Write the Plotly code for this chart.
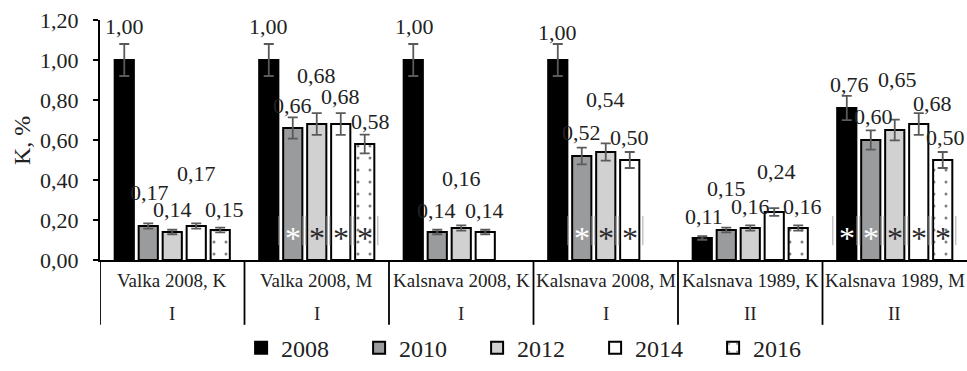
import plotly.graph_objects as go

# Potassium content (K, %) by stand and survey year
sites = ["Valka 2008, K", "Valka 2008, M", "Kalsnava 2008, K",
         "Kalsnava 2008, M", "Kalsnava 1989, K", "Kalsnava 1989, M"]
site_class = ["I", "I", "I", "I", "II", "II"]
years = ["2008", "2010", "2012", "2014", "2016"]

k_2008 = [1.00, 1.00, 1.00, 1.00, 0.11, 0.76]
k_2010 = [0.17, 0.66, 0.14, 0.52, 0.15, 0.60]
k_2012 = [0.14, 0.68, 0.16, 0.54, 0.16, 0.65]
k_2014 = [0.17, 0.68, 0.14, 0.50, 0.24, 0.68]
k_2016 = [0.15, 0.58, None, None, 0.16, 0.50]
error_percent = 8

# bars marked as significantly different (site index -> year indices)
significant = {1: [1, 2, 3, 4], 3: [1, 2, 3], 5: [0, 1, 2, 3, 4]}

series = [k_2008, k_2010, k_2012, k_2014, k_2016]

FONT = "Liberation Serif"
BARGAP = 0.17
SLOT = (1 - BARGAP) / len(years)

fills = ["#000000", "#9a9b9d", "#d1d1d2", "#ffffff", "#ffffff"]

fig = go.Figure()
x = list(range(len(sites)))
for yi, (yr, vals) in enumerate(zip(years, series)):
    marker = dict(color=fills[yi], line=dict(color="#000000", width=2))
    if yr == "2016":
        marker["pattern"] = dict(shape=".", fgcolor="#000000", bgcolor="#ffffff",
                                 size=12, solidity=0.05, fillmode="overlay")
    fig.add_trace(go.Bar(
        name=yr, x=x, y=vals, marker=marker,
        error_y=dict(type="percent", value=error_percent, color="#5a5a5a",
                     thickness=1.8, width=5),
    ))

# label nudges in px: (dx, dy above bar top), per site and year
label_dx = [[0, 1.5, 0, 0, 4.5], [0, 0, 0, 0, 5.5], [1, -1, 0, -1, 0],
            [0, 0, 0, 0, 0], [1.5, 0, 0, 2.5, 4.5], [2.5, 2.5, 2.5, 13.5, 2.5]]
label_dy = [[34, 34, 23, 53, 21], [34, 23, 49, 28, 23], [34, 22, 50, 22, 0],
            [28, 24, 53, 23, 0], [22, 42, 22, 41, 22], [24, 24, 51, 21, 23]]

annotations = []
shapes = []
for si in range(len(sites)):
    for yi, vals in enumerate(series):
        v = vals[si]
        if v is None:
            continue
        annotations.append(dict(
            x=si + (yi - 2) * SLOT, y=v, xref="x", yref="y",
            text=f"{v:.2f}".replace(".", ","), showarrow=False,
            xshift=label_dx[si][yi], yshift=label_dy[si][yi], yanchor="middle",
            font=dict(family=FONT, size=22, color="#222222"),
        ))

# asterisks sit in small text boxes whose faint edges cross the bars
for si, idx in significant.items():
    for yi in idx:
        xc = si + (yi - 2) * SLOT
        annotations.append(dict(
            x=xc, y=0.112, xref="x", yref="y",
            text="*", showarrow=False, yanchor="middle",
            font=dict(family=FONT, size=32,
                      color="#ffffff" if yi < 2 else "#2a2a2a"),
        ))
        for px in (-14, 13):
            shapes.append(dict(type="line", xref="x", yref="y", xsizemode="pixel",
                               xanchor=xc, x0=px, x1=px, y0=0.074, y1=0.22,
                               line=dict(color="rgba(150,150,150,0.55)", width=1.5),
                               layer="above"))

# two-row category axis: stand name and site class
for si, (name, cls) in enumerate(zip(sites, site_class)):
    annotations.append(dict(x=si, y=-0.086, xref="x", yref="paper", text=name,
                            showarrow=False, yanchor="middle",
                            font=dict(family=FONT, size=19, color="#222222")))
    annotations.append(dict(x=si, y=-0.224, xref="x", yref="paper", text=cls,
                            showarrow=False, yanchor="middle",
                            font=dict(family=FONT, size=19, color="#222222")))

annotations.append(dict(x=-0.09, y=0.5, xref="paper", yref="paper",
                        xanchor="center", yanchor="middle",
                        text="K, %", textangle=-90, showarrow=False,
                        font=dict(family=FONT, size=24, color="#222222")))

for k in range(len(sites)):
    shapes.append(dict(type="line", xref="x", yref="paper",
                       x0=k - 0.5, x1=k - 0.5, y0=0, y1=-0.27,
                       line=dict(color="#000000", width=1.8)))

fig.update_layout(
    width=967, height=371,
    margin=dict(l=100, r=0, t=20, b=106),
    paper_bgcolor="#ffffff", plot_bgcolor="#ffffff",
    barmode="group", bargap=BARGAP, bargroupgap=0.2,
    separators=", ",
    showlegend=True,
    legend=dict(orientation="h", x=0.503, xanchor="center", y=-0.367,
                yanchor="middle", font=dict(family=FONT, size=24, color="#222222"),
                entrywidth=73, itemwidth=30, bgcolor="rgba(0,0,0,0)"),
    annotations=annotations, shapes=shapes,
    font=dict(family=FONT, color="#222222"),
)
fig.update_xaxes(range=[-0.5, 5.5], showline=True, linecolor="#000000",
                 linewidth=2, showticklabels=False, ticks="", showgrid=False,
                 zeroline=False, fixedrange=True)
fig.update_yaxes(range=[0, 1.2], dtick=0.2, tickformat=".2f", showline=True,
                 linecolor="#000000", linewidth=2, ticks="outside", ticklen=5,
                 tickwidth=1.5, tickcolor="#000000", showgrid=False,
                 ticklabelstandoff=10,
                 zeroline=False, tickfont=dict(family=FONT, size=22, color="#222222"))

fig.write_html("out.html")
